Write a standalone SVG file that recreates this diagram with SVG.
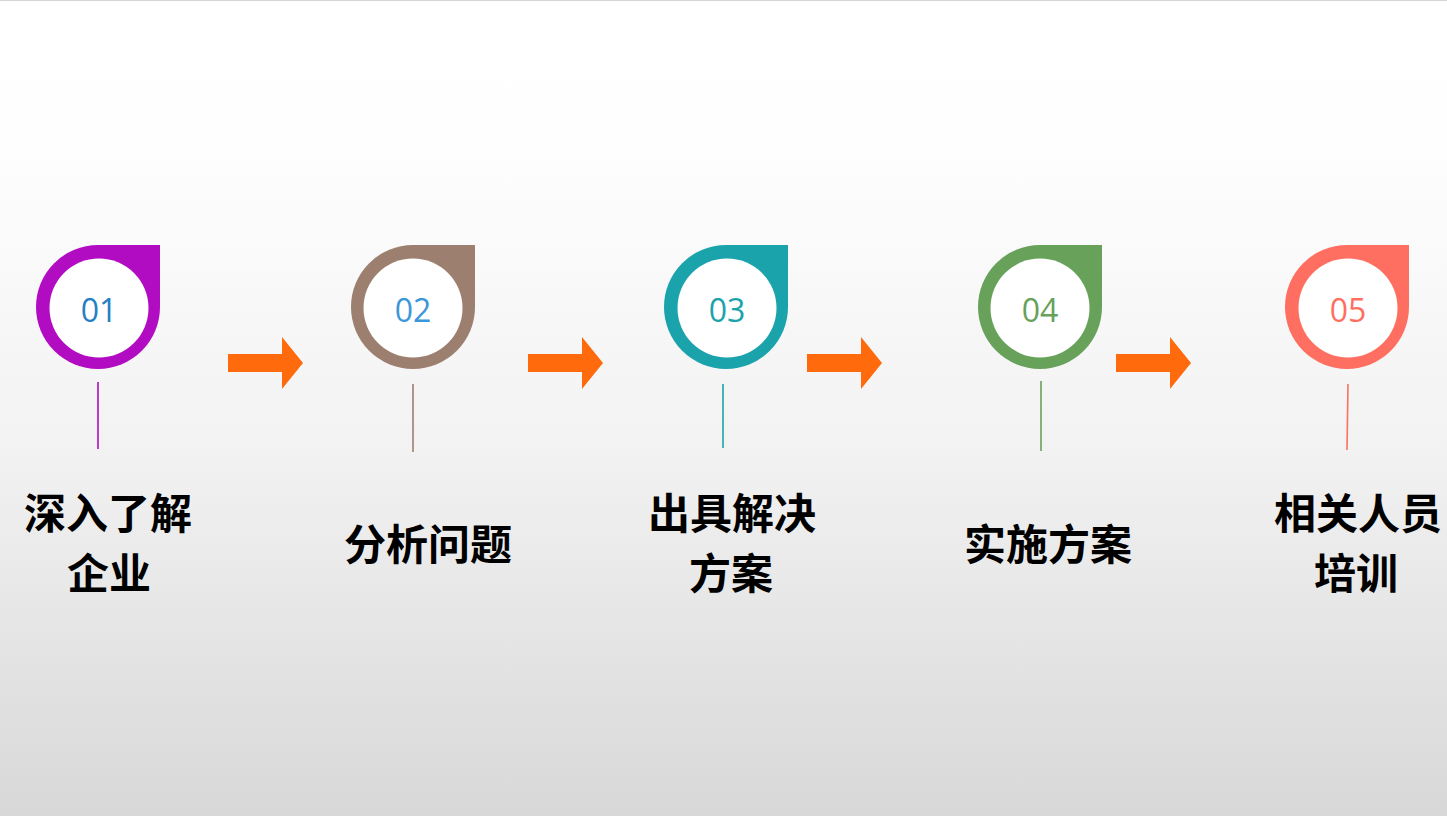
<svg xmlns="http://www.w3.org/2000/svg" width="1447" height="816" viewBox="0 0 1447 816">
<defs>
<linearGradient id="bg" x1="0" y1="0" x2="0" y2="1">
<stop offset="0" stop-color="#ffffff"/>
<stop offset="0.18" stop-color="#fefefe"/>
<stop offset="0.55" stop-color="#f2f2f2"/>
<stop offset="1" stop-color="#d8d8d8"/>
</linearGradient>
<path id="drop" d="M0 -62 L62 -62 L62 0 A62 62 0 1 1 0 -62 Z"/>
<path id="arrow" d="M0 -9 L54 -9 L54 -26 L75 0 L54 26 L54 9 L0 9 Z"/>
</defs>
<style>
.num{font-family:"Open Sans","Noto Sans",sans-serif;font-size:32px;text-anchor:middle}
.lbl{font-family:"Noto Sans CJK SC","Noto Sans",sans-serif;font-size:42px;font-weight:bold;fill:#000;text-anchor:middle}
.inner{fill:#fff}
.stem{stroke-width:1.6;fill:none}
.arr{fill:#ff6a0d}
</style>
<rect x="0" y="0" width="1447" height="816" fill="url(#bg)"/>
<rect x="0" y="0" width="1447" height="1" fill="#d4d4d4"/>

<g id="node1">
<use href="#drop" x="98" y="307" fill="#b20cc2"/>
<circle class="inner" cx="99" cy="308" r="49.5"/>
<text class="num" x="99" y="322" fill="#2580c3">01</text>
<line class="stem" x1="98" y1="382" x2="98" y2="449" stroke="#b20cc2"/>
<text class="lbl" x="108" y="529">深入了解</text>
<text class="lbl" x="109" y="589">企业</text>
</g>

<g id="node2">
<use href="#drop" x="413" y="307" fill="#9c7f6f"/>
<circle class="inner" cx="413" cy="308" r="49.5"/>
<text class="num" x="413" y="322" fill="#3c97da">02</text>
<line class="stem" x1="413" y1="384" x2="413" y2="452" stroke="#9c7f6f"/>
<text class="lbl" x="428" y="560">分析问题</text>
</g>

<g id="node3">
<use href="#drop" x="726" y="307" fill="#1ba3ac"/>
<circle class="inner" cx="727" cy="308" r="49.5"/>
<text class="num" x="727" y="322" fill="#1ba3ac">03</text>
<line class="stem" x1="723" y1="384" x2="723" y2="448" stroke="#1ba3ac"/>
<text class="lbl" x="732" y="529">出具解决</text>
<text class="lbl" x="731" y="589">方案</text>
</g>

<g id="node4">
<use href="#drop" x="1040" y="307" fill="#67a15a"/>
<circle class="inner" cx="1040" cy="308" r="49.5"/>
<text class="num" x="1040" y="322" fill="#67a15a">04</text>
<line class="stem" x1="1041" y1="381" x2="1041" y2="451" stroke="#67a15a"/>
<text class="lbl" x="1048" y="560">实施方案</text>
</g>

<g id="node5">
<use href="#drop" x="1347" y="307" fill="#ff6f61"/>
<circle class="inner" cx="1348" cy="308" r="49.5"/>
<text class="num" x="1348" y="322" fill="#ff6f61">05</text>
<line class="stem" x1="1348" y1="384" x2="1347" y2="450" stroke="#ff6f61"/>
<text class="lbl" x="1358" y="529">相关人员</text>
<text class="lbl" x="1356" y="589">培训</text>
</g>

<g id="connectors">
<use class="arr" href="#arrow" x="228" y="363"/>
<use class="arr" href="#arrow" x="528" y="363"/>
<use class="arr" href="#arrow" x="807" y="363"/>
<use class="arr" href="#arrow" x="1116" y="363"/>
</g>
</svg>
